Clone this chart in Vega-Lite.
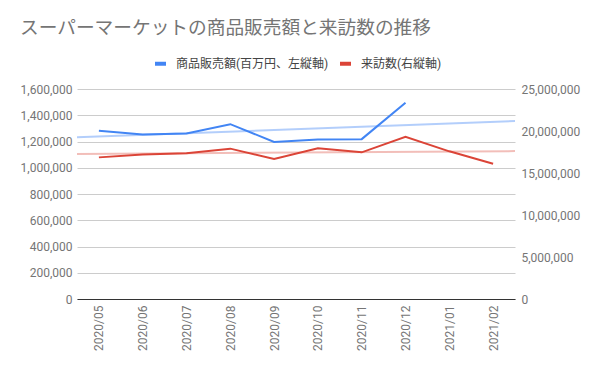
{
  "$schema": "https://vega.github.io/schema/vega-lite/v6.json",
  "autosize": {"type": "none"},
  "padding": {"left": 77, "top": 89, "right": 85, "bottom": 72},
  "width": 438,
  "height": 210,
  "background": "white",
  "config": {
    "font": "Roboto, Noto Sans CJK JP",
    "view": {"stroke": null},
    "axis": {"labelFont": "Roboto, Noto Sans CJK JP", "labelFontSize": 12, "labelColor": "#757575"},
    "legend": {"labelFont": "Roboto, Noto Sans CJK JP", "labelFontSize": 12, "labelColor": "#444444"}
  },
  "title": {
    "text": "スーパーマーケットの商品販売額と来訪数の推移",
    "anchor": "start",
    "frame": "group",
    "dx": -57,
    "fontSize": 18.7,
    "fontWeight": "normal",
    "color": "#757575",
    "font": "Roboto, Noto Sans CJK JP",
    "offset": 18
  },
  "data": {
    "values": [
      {"month": "2020/05", "idx": 0, "sales": 1281000, "visitors": 16860000},
      {"month": "2020/06", "idx": 1, "sales": 1253000, "visitors": 17200000},
      {"month": "2020/07", "idx": 2, "sales": 1261000, "visitors": 17340000},
      {"month": "2020/08", "idx": 3, "sales": 1332000, "visitors": 17900000},
      {"month": "2020/09", "idx": 4, "sales": 1197000, "visitors": 16670000},
      {"month": "2020/10", "idx": 5, "sales": 1215000, "visitors": 17940000},
      {"month": "2020/11", "idx": 6, "sales": 1218000, "visitors": 17460000},
      {"month": "2020/12", "idx": 7, "sales": 1495000, "visitors": 19300000},
      {"month": "2021/01", "idx": 8, "sales": null, "visitors": 17580000},
      {"month": "2021/02", "idx": 9, "sales": null, "visitors": 16110000}
    ]
  },
  "encoding": {
    "x": {
      "field": "idx",
      "type": "quantitative",
      "scale": {"domain": [-0.5, 9.5], "nice": false, "zero": false},
      "axis": {
        "title": null,
        "values": [0, 1, 2, 3, 4, 5, 6, 7, 8, 9],
        "labelExpr": "['2020/05','2020/06','2020/07','2020/08','2020/09','2020/10','2020/11','2020/12','2021/01','2021/02'][datum.value]",
        "labelAngle": 270,
        "labelAlign": "right",
        "labelBaseline": "middle",
        "labelPadding": 6,
        "ticks": false,
        "grid": false,
        "domainColor": "#333333",
        "domainWidth": 1,
        "zindex": 1
      }
    }
  },
  "layer": [
    {
      "encoding": {
        "y": {
          "field": "sales",
          "type": "quantitative",
          "scale": {"domain": [0, 1600000], "nice": false},
          "axis": {
            "title": null,
            "orient": "left",
            "values": [0, 200000, 400000, 600000, 800000, 1000000, 1200000, 1400000, 1600000],
            "format": ",.0f",
            "domain": false,
            "ticks": false,
            "labelPadding": 5,
            "gridColor": "#cccccc",
            "grid": true
          }
        }
      },
      "layer": [
        {
          "transform": [{"regression": "sales", "on": "idx", "extent": [-0.5, 9.5]}],
          "mark": {"type": "line", "stroke": "#4285f4", "strokeOpacity": 0.4, "strokeWidth": 2},
          "encoding": {}
        },
        {
          "mark": {"type": "line", "strokeWidth": 2},
          "encoding": {
            "color": {
              "datum": "商品販売額(百万円、左縦軸)",
              "scale": {"domain": ["商品販売額(百万円、左縦軸)", "来訪数(右縦軸)"], "range": ["#4285f4", "#db4437"]},
              "legend": {
                "title": null,
                "orient": "none",
                "direction": "horizontal",
                "legendX": 76,
                "legendY": -33,
                "symbolType": "stroke",
                "symbolSize": 121,
                "symbolStrokeWidth": 4,
                "labelOffset": 8,
                "columnPadding": 3
              }
            }
          }
        }
      ]
    },
    {
      "encoding": {
        "y": {
          "field": "visitors",
          "type": "quantitative",
          "scale": {"domain": [0, 25000000], "nice": false},
          "axis": {
            "title": null,
            "orient": "right",
            "values": [0, 5000000, 10000000, 15000000, 20000000, 25000000],
            "format": ",.0f",
            "domain": false,
            "ticks": false,
            "grid": false,
            "labelPadding": 6
          }
        }
      },
      "layer": [
        {
          "transform": [{"regression": "visitors", "on": "idx", "extent": [-0.5, 9.5]}],
          "mark": {"type": "line", "stroke": "#db4437", "strokeOpacity": 0.35, "strokeWidth": 2},
          "encoding": {}
        },
        {
          "mark": {"type": "line", "strokeWidth": 2},
          "encoding": {
            "color": {"datum": "来訪数(右縦軸)"}
          }
        }
      ]
    }
  ],
  "resolve": {"scale": {"y": "independent"}}
}
